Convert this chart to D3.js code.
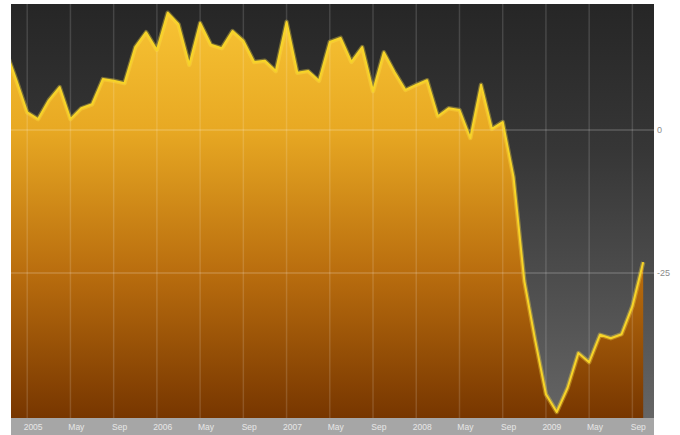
<!DOCTYPE html>
<html>
<head>
<meta charset="utf-8">
<script src="https://cdn.jsdelivr.net/npm/d3@7"></script>
<style>
  html, body { margin: 0; padding: 0; background: #ffffff; }
  svg { display: block; }
  .xaxis text { font-family: "Liberation Sans", Arial, sans-serif; font-size: 8.5px; fill: #e6e6e6; }
  .yaxis text { font-family: "Liberation Sans", Arial, sans-serif; font-size: 9px; fill: #8c8c8c; }
</style>
</head>
<body>
<svg id="chart" width="680" height="435"></svg>
<script>
// Monthly index readings, Nov 2004 – Oct 2009
const months = [
  "2004-11","2004-12",
  "2005-01","2005-02","2005-03","2005-04","2005-05","2005-06","2005-07","2005-08","2005-09","2005-10","2005-11","2005-12",
  "2006-01","2006-02","2006-03","2006-04","2006-05","2006-06","2006-07","2006-08","2006-09","2006-10","2006-11","2006-12",
  "2007-01","2007-02","2007-03","2007-04","2007-05","2007-06","2007-07","2007-08","2007-09","2007-10","2007-11","2007-12",
  "2008-01","2008-02","2008-03","2008-04","2008-05","2008-06","2008-07","2008-08","2008-09","2008-10","2008-11","2008-12",
  "2009-01","2009-02","2009-03","2009-04","2009-05","2009-06","2009-07","2009-08","2009-09","2009-10"
];
const values = [
  14.0, 8.7,
  3.1, 1.9, 5.2, 7.5, 1.9, 3.8, 4.5, 8.9, 8.6, 8.2, 14.5, 17.1,
  14.0, 20.5, 18.5, 11.4, 18.7, 14.9, 14.3, 17.3, 15.6, 11.9, 12.1, 10.3,
  18.9, 10.0, 10.3, 8.6, 15.4, 16.1, 11.9, 14.5, 6.8, 13.6, 10.1, 7.0,
  7.9, 8.7, 2.4, 3.8, 3.5, -1.4, 7.9, 0.2, 1.4, -8.2, -26.4, -36.7,
  -46.2, -49.3, -45.1, -39.0, -40.6, -35.8, -36.4, -35.7, -30.8, -23.1
];
const tickMonths = [
  "2005-01","2005-05","2005-09","2006-01","2006-05","2006-09",
  "2007-01","2007-05","2007-09","2008-01","2008-05","2008-09",
  "2009-01","2009-05","2009-09"
];
const tickLabels = [
  "2005","May","Sep","2006","May","Sep",
  "2007","May","Sep","2008","May","Sep",
  "2009","May","Sep"
];
const yTicks = [0, -25];
const yTickLabels = ["0", "-25"];

// months since Jan 2005
const monthIndex = s => { const [y, m] = s.split("-").map(Number); return (y - 2005) * 12 + (m - 1); };

const data = months.map((m, i) => ({ t: monthIndex(m), v: values[i] }));

const plot = { left: 11, right: 654, top: 4, bottom: 418 };
const svg = d3.select("#chart");

const x = d3.scaleLinear().domain([-1.5, 58]).range([plot.left, plot.right]);
const y = d3.scaleLinear().domain([-50.35, 22.03]).range([plot.bottom, plot.top]);

const defs = svg.append("defs");

const bg = defs.append("linearGradient").attr("id", "bgGrad")
  .attr("gradientUnits", "userSpaceOnUse")
  .attr("x1", 0).attr("y1", plot.top).attr("x2", 0).attr("y2", plot.bottom);
bg.append("stop").attr("offset", "0").attr("stop-color", "#262626");
bg.append("stop").attr("offset", "0.35").attr("stop-color", "#363636");
bg.append("stop").attr("offset", "1").attr("stop-color", "#656565");

const fill = defs.append("linearGradient").attr("id", "areaGrad")
  .attr("gradientUnits", "userSpaceOnUse")
  .attr("x1", 0).attr("y1", plot.top).attr("x2", 0).attr("y2", plot.bottom);
fill.append("stop").attr("offset", "0").attr("stop-color", "#f8c535");
fill.append("stop").attr("offset", "0.3").attr("stop-color", "#e8a923");
fill.append("stop").attr("offset", "0.65").attr("stop-color", "#b96d0e");
fill.append("stop").attr("offset", "1").attr("stop-color", "#773600");

defs.append("clipPath").attr("id", "plotClip")
  .append("rect")
  .attr("x", plot.left).attr("y", plot.top)
  .attr("width", plot.right - plot.left).attr("height", plot.bottom - plot.top);

// plot background
svg.append("rect")
  .attr("x", plot.left).attr("y", plot.top)
  .attr("width", plot.right - plot.left).attr("height", plot.bottom - plot.top)
  .attr("fill", "url(#bgGrad)");

const g = svg.append("g").attr("clip-path", "url(#plotClip)");

const area = d3.area()
  .x(d => x(d.t))
  .y0(plot.bottom)
  .y1(d => y(d.v));

g.append("path").datum(data)
  .attr("d", area)
  .attr("fill", "url(#areaGrad)");

// grid lines over the fill
g.selectAll(".vgrid").data(tickMonths).enter().append("line")
  .attr("class", "vgrid")
  .attr("x1", d => x(monthIndex(d))).attr("x2", d => x(monthIndex(d)))
  .attr("y1", plot.top).attr("y2", plot.bottom)
  .attr("stroke", "rgba(255,255,255,0.14)").attr("stroke-width", 1.5);

g.selectAll(".hgrid").data(yTicks).enter().append("line")
  .attr("class", "hgrid")
  .attr("x1", plot.left).attr("x2", plot.right)
  .attr("y1", d => y(d)).attr("y2", d => y(d))
  .attr("stroke", "rgba(255,255,255,0.2)").attr("stroke-width", 1.5);

const line = d3.line().x(d => x(d.t)).y(d => y(d.v));

g.append("path").datum(data)
  .attr("d", line)
  .attr("fill", "none")
  .attr("stroke", "rgba(255,225,70,0.35)")
  .attr("stroke-width", 4.5)
  .attr("stroke-linejoin", "round");

g.append("path").datum(data)
  .attr("d", line)
  .attr("fill", "none")
  .attr("stroke", "#f7d428")
  .attr("stroke-width", 2)
  .attr("stroke-linejoin", "round");

// bottom axis band
svg.append("rect")
  .attr("x", plot.left).attr("y", plot.bottom)
  .attr("width", plot.right - plot.left).attr("height", 435 - plot.bottom)
  .attr("fill", "#a6a6a6");

const xAxis = d3.axisBottom(x)
  .tickValues(tickMonths.map(d => monthIndex(d) + 0.5))
  .tickFormat((d, i) => tickLabels[i])
  .tickSize(0)
  .tickPadding(6);

svg.append("g").attr("class", "xaxis")
  .attr("transform", `translate(0,${plot.bottom})`)
  .call(xAxis)
  .call(s => s.select(".domain").remove());

const yAxis = d3.axisRight(y)
  .tickValues(yTicks)
  .tickFormat((d, i) => yTickLabels[i])
  .tickSize(0)
  .tickPadding(3);

svg.append("g").attr("class", "yaxis")
  .attr("transform", `translate(${plot.right},0)`)
  .call(yAxis)
  .call(s => s.select(".domain").remove());
</script>
</body>
</html>
